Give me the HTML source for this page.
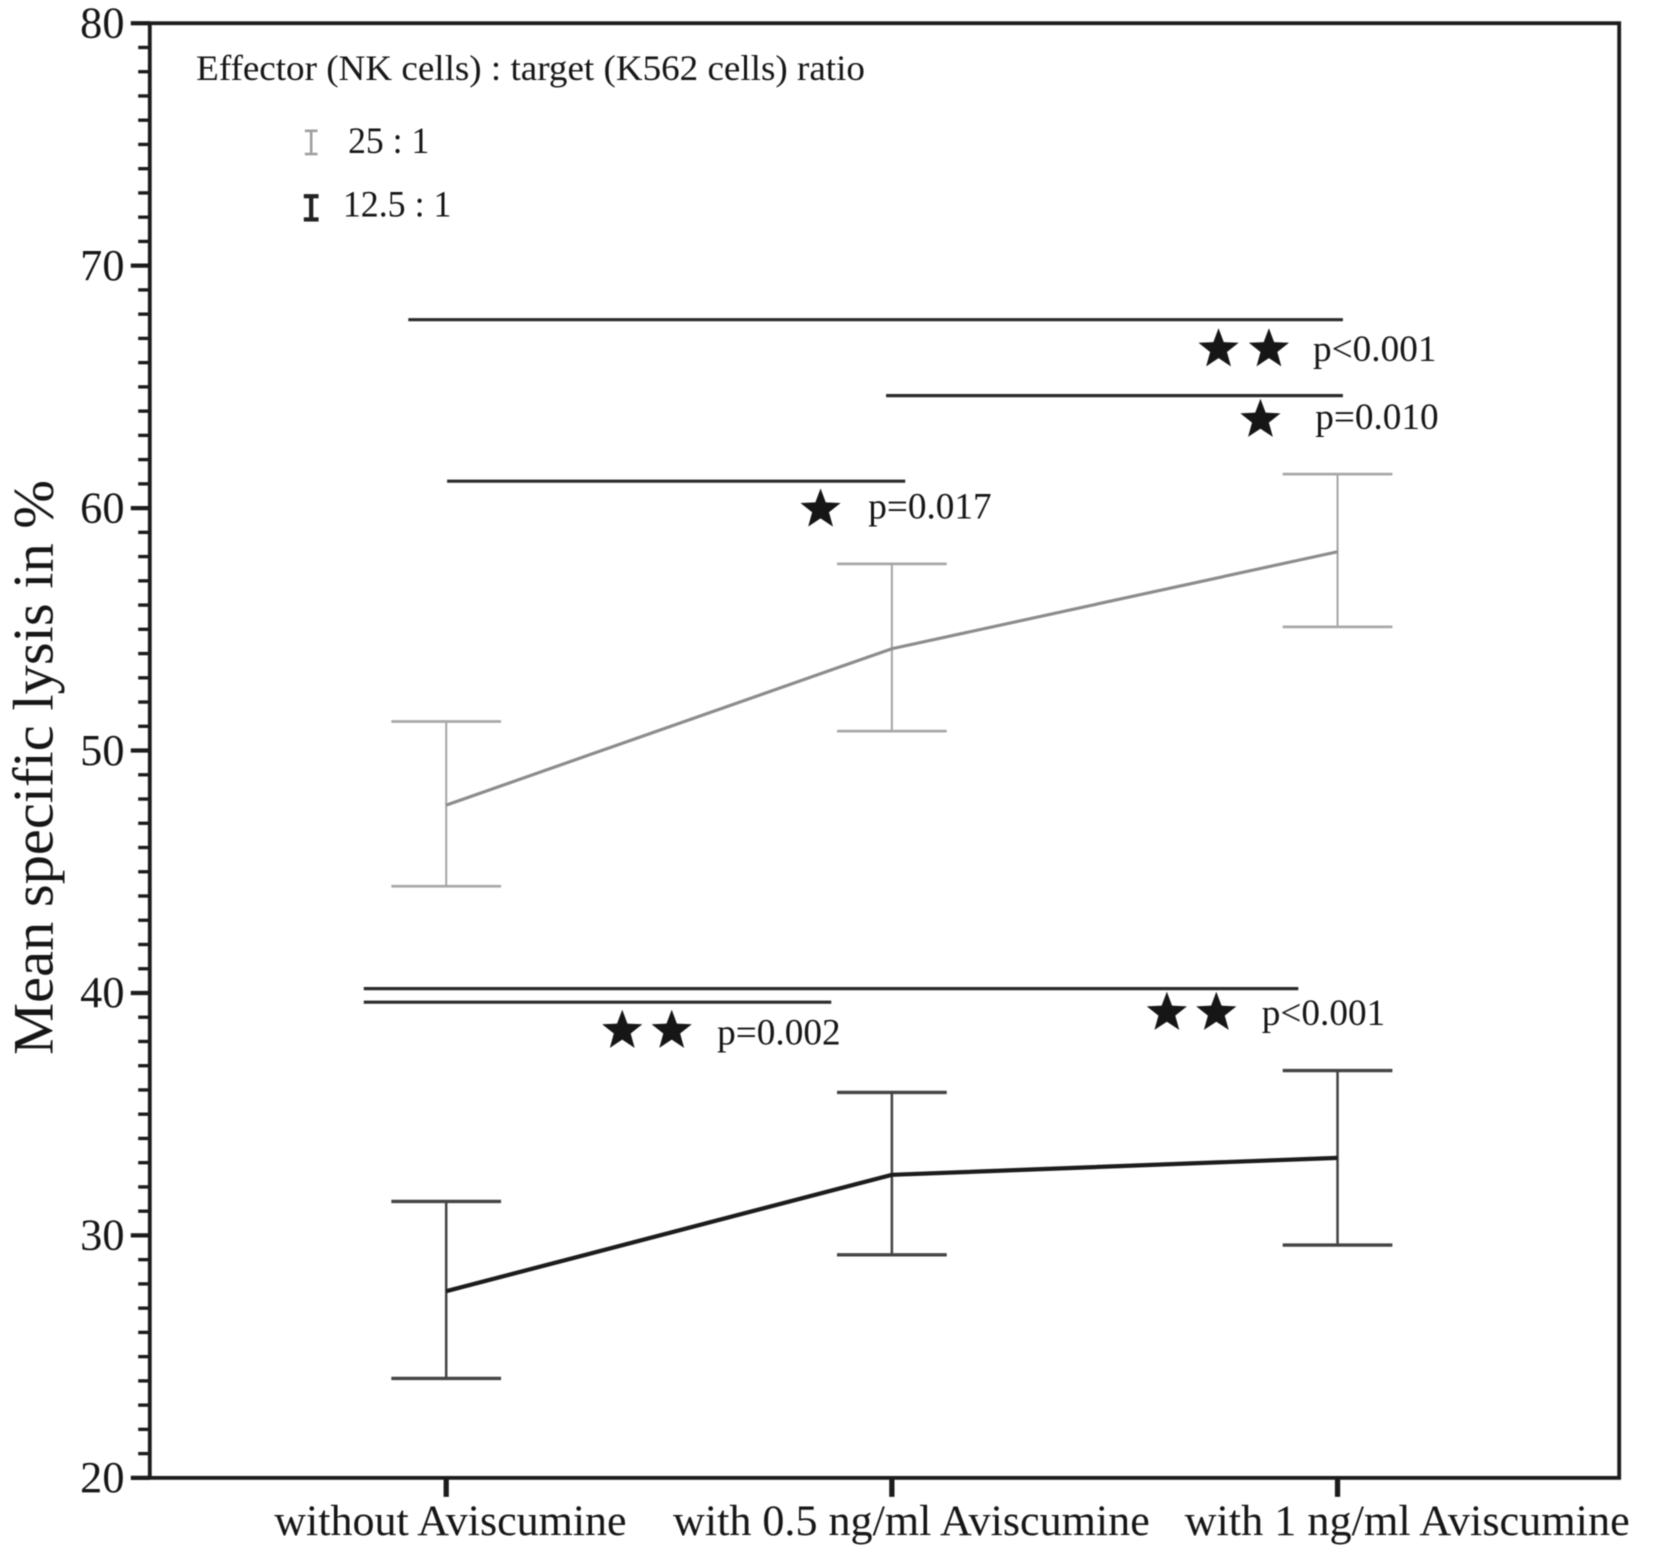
<!DOCTYPE html>
<html lang="en">
<head>
<meta charset="utf-8">
<title>Mean specific lysis chart</title>
<style>
  html, body { margin: 0; padding: 0; background: #fff; }
  svg { display: block; width: 1654px; height: 1563px; }
  text { font-family: "Liberation Serif", serif; fill: #141414; }
</style>
</head>
<body>
<svg id="chart" xmlns="http://www.w3.org/2000/svg" viewBox="0 0 1568 1481.7">
  <g id="root" filter="url(#soft)">
    <text transform="translate(50,1000) rotate(-90)" font-size="54" textLength="545" lengthAdjust="spacingAndGlyphs">Mean specific lysis in %</text>
    <text x="186" y="76" font-size="34.5" textLength="634" lengthAdjust="spacingAndGlyphs">Effector (NK cells) : target (K562 cells) ratio</text>
    <text x="330" y="145" font-size="35" textLength="77" lengthAdjust="spacingAndGlyphs">25 : 1</text>
    <text x="325" y="205" font-size="35" textLength="103" lengthAdjust="spacingAndGlyphs">12.5 : 1</text>
    <g stroke="#a0a0a0" stroke-width="2.5">
      <line x1="295" x2="295" y1="124" y2="146"/><line x1="289" x2="301" y1="124" y2="124"/><line x1="289" x2="301" y1="146" y2="146"/>
    </g>
    <g stroke="#222" stroke-width="4">
      <line x1="295" x2="295" y1="186" y2="208"/><line x1="288" x2="302" y1="186" y2="186"/><line x1="288" x2="302" y1="208" y2="208"/>
    </g>
  </g>
  <defs>
    <filter id="soft" x="-2%" y="-2%" width="104%" height="104%"><feGaussianBlur stdDeviation="0.6"/></filter>
  </defs>
</svg>
<script>
// ---- data ----
const categories = ['without Aviscumine', 'with 0.5 ng/ml Aviscumine', 'with 1 ng/ml Aviscumine'];
const yTicks = [20, 30, 40, 50, 60, 70, 80];

const mean25 = [47.75, 54.2, 58.2];
const upper25 = [51.2, 57.7, 61.4];
const lower25 = [44.4, 50.8, 55.1];

const mean125 = [27.7, 32.5, 33.2];
const upper125 = [31.4, 35.9, 36.8];
const lower125 = [24.1, 29.2, 29.6];

// significance brackets: level in %, span in category units
const bracketLevel = [67.77, 64.64, 61.11, 40.18, 39.62];
const bracketFrom = [-0.085, 0.987, 0.002, -0.185, -0.185];
const bracketTo = [2.012, 2.012, 1.03, 1.912, 0.864];

// significance stars: level in %, location in category units
const starLevel = [66.55, 66.55, 63.64, 59.94, 38.44, 38.44, 39.18, 39.18];
const starAt = [1.733, 1.846, 1.827, 0.84, 0.395, 0.506, 1.617, 1.728];

// p-value labels: level in %, location in category units
const pLabels = ['p<0.001', 'p=0.010', 'p=0.017', 'p=0.002', 'p<0.001'];
const pLevel = [66.07, 63.27, 59.57, 37.87, 38.67];
const pAt = [1.945, 1.95, 0.947, 0.608, 1.83];

// ---- axis functions ----
const plot = { left: 142, right: 1535, top: 22, bottom: 1401, yMin: 20, yMax: 80, x0: 423, step: 422.5 };
function xPos(c) { return plot.x0 + c * plot.step; }
function yPos(v) { return plot.bottom - (v - plot.yMin) / (plot.yMax - plot.yMin) * (plot.bottom - plot.top); }

const NS = 'http://www.w3.org/2000/svg';
const root = document.getElementById('root');
function make(tag, attrs, text) {
  const el = document.createElementNS(NS, tag);
  for (const k in attrs) el.setAttribute(k, attrs[k]);
  if (text !== undefined) el.textContent = text;
  root.appendChild(el);
  return el;
}
function seg(x1, y1, x2, y2, color, width) {
  return make('line', { x1, y1, x2, y2, stroke: color, 'stroke-width': width });
}

// ---- frame ----
const frame = make('rect', { x: plot.left, y: plot.top, width: plot.right - plot.left, height: plot.bottom - plot.top, fill: 'none', stroke: '#1c1c1c', 'stroke-width': 3.6 });



// ---- y axis ticks ----
for (let v = plot.yMin; v <= plot.yMax; v++) {
  const major = v % 10 === 0;
  const t = seg(plot.left - (major ? 18 : 11), yPos(v), plot.left, yPos(v), '#1c1c1c', major ? 4 : 3.2);
  
  
}
yTicks.forEach(function (v) {
  const lab = make('text', { x: 118, y: yPos(v) + 13.5, 'font-size': 42, 'text-anchor': 'end' }, String(v));
  
  
});

// ---- x axis ----
const catLeft = [260, 638, 1123];
const catWidth = [334, 452, 422];
categories.forEach(function (name, i) {
  const t = seg(xPos(i), plot.bottom, xPos(i), plot.bottom + 18, '#1c1c1c', 5);
  
  
  const lab = make('text', { x: catLeft[i], y: 1455, 'font-size': 41, textLength: catWidth[i], lengthAdjust: 'spacingAndGlyphs' }, name);
  
  
});

// ---- series ----
function drawSeries(means, uppers, lowers, lineColor, barColor, lineWidth, barWidth, capWidth) {
  means.forEach(function (m, i) {
    const stem = seg(xPos(i), yPos(uppers[i]), xPos(i), yPos(lowers[i]), barColor, barWidth);
    
    
    const capTop = seg(xPos(i) - 52, yPos(uppers[i]), xPos(i) + 52, yPos(uppers[i]), barColor, capWidth);
    
    
    const capBottom = seg(xPos(i) - 52, yPos(lowers[i]), xPos(i) + 52, yPos(lowers[i]), barColor, capWidth);
    
    
  });
  const pts = means.map(function (m, i) { return xPos(i) + ',' + yPos(m); }).join(' ');
  const line = make('polyline', { points: pts, fill: 'none', stroke: lineColor, 'stroke-width': lineWidth });
  
  
}
drawSeries(mean25, upper25, lower25, '#8c8c8c', '#a8a8a8', 3, 2, 2.6);
drawSeries(mean125, upper125, lower125, '#1c1c1c', '#444', 4, 2.4, 3.2);

// ---- brackets ----
bracketLevel.forEach(function (v, i) {
  const b = seg(xPos(bracketFrom[i]), yPos(v), xPos(bracketTo[i]), yPos(v), '#2a2a2a', 3);
  
  
});

// ---- stars ----
function starPoints(cx, cy, r) {
  const p = [];
  for (let k = 0; k < 10; k++) {
    const rad = k % 2 === 0 ? r : r * 0.42;
    const a = -Math.PI / 2 + k * Math.PI / 5;
    p.push((cx + rad * Math.cos(a)).toFixed(2) + ',' + (cy + rad * Math.sin(a)).toFixed(2));
  }
  return p.join(' ');
}
starLevel.forEach(function (v, i) {
  const s = make('polygon', { points: starPoints(xPos(starAt[i]), yPos(v), 20), fill: '#141414' });
  
  
});

// ---- p-value labels ----
pLabels.forEach(function (txt, i) {
  const t = make('text', { x: xPos(pAt[i]), y: yPos(pLevel[i]), 'font-size': 35, textLength: 117, lengthAdjust: 'spacingAndGlyphs' }, txt);
  
  
});
</script>
</body>
</html>
